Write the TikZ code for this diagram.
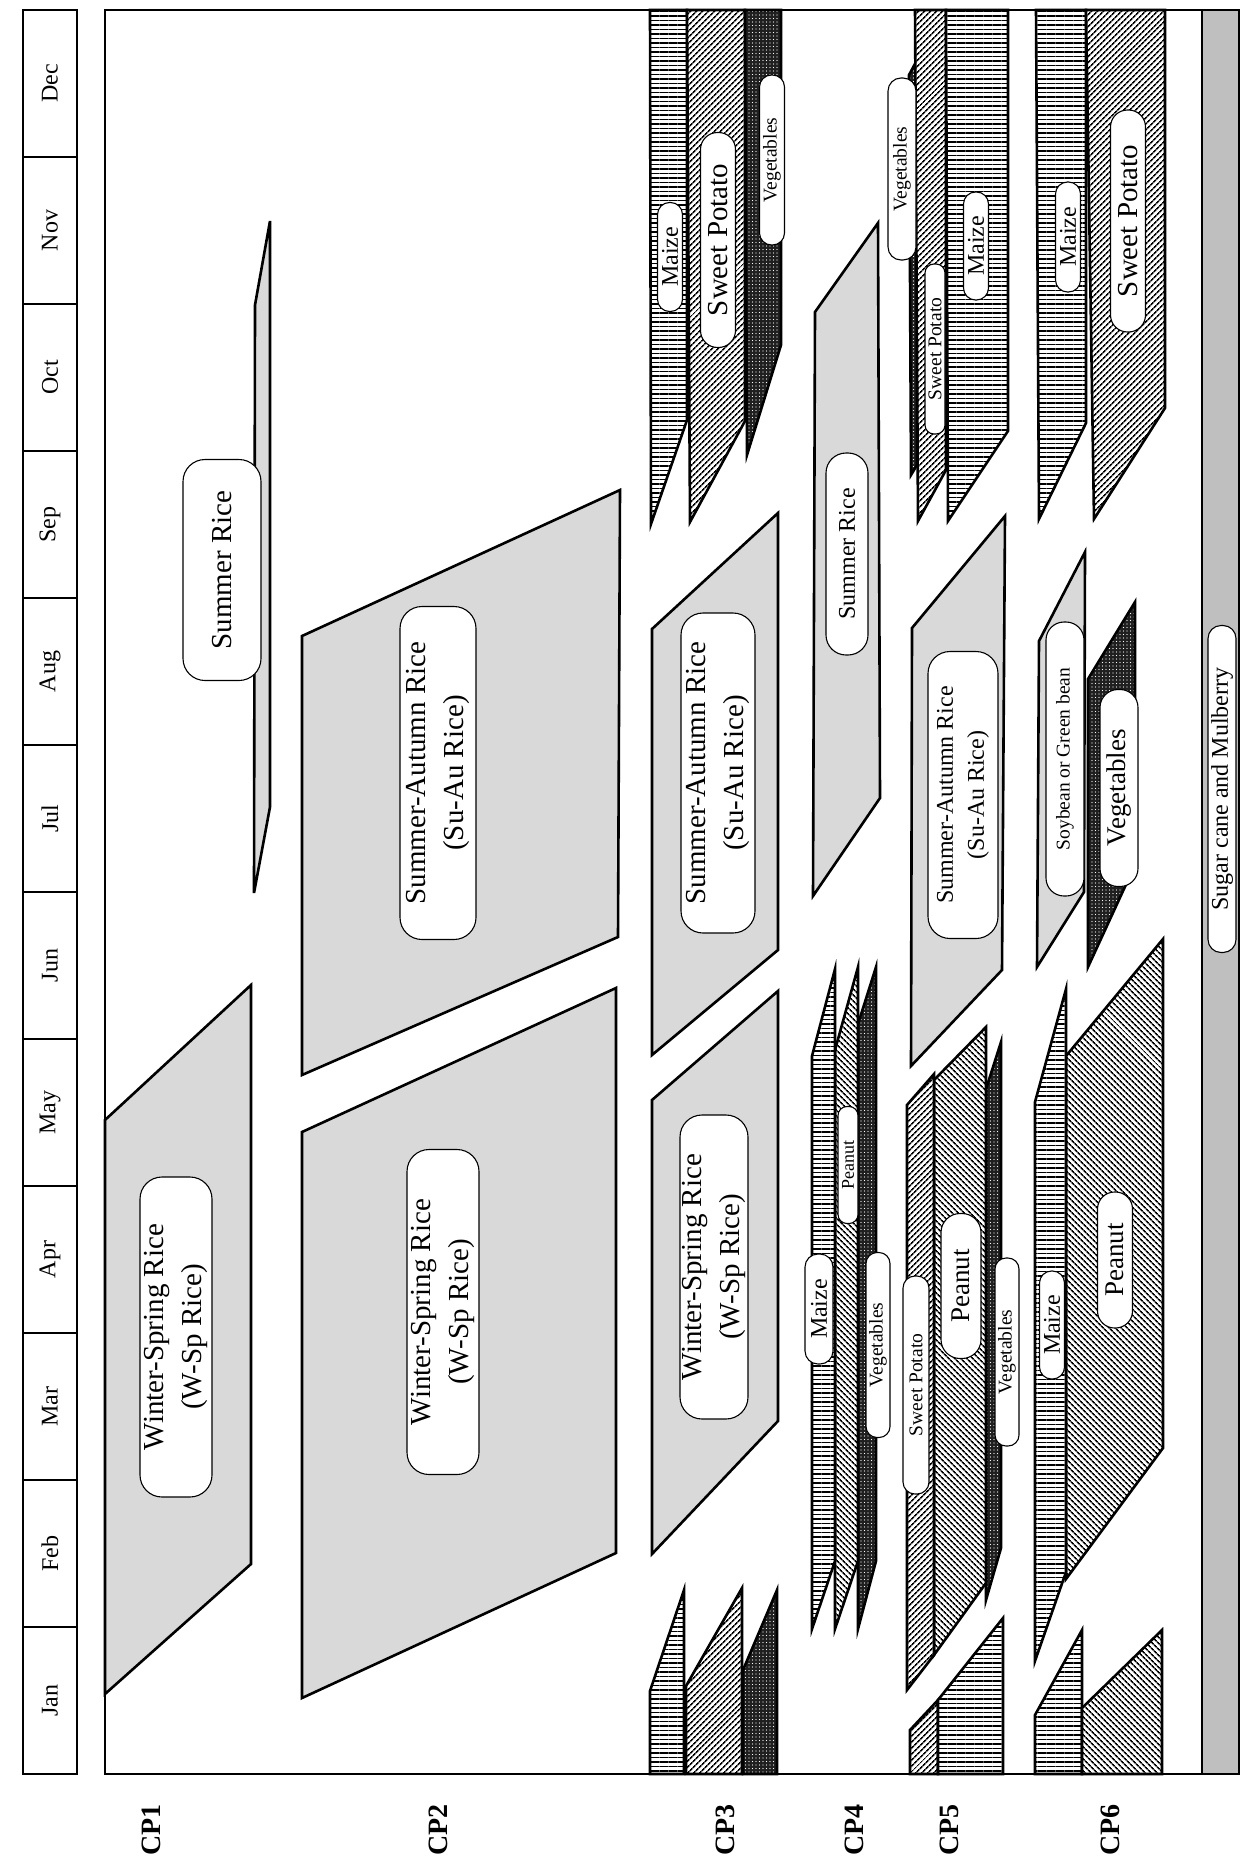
\documentclass[tikz,border=0pt]{standalone}
\usepackage{fontspec}
\setmainfont{Liberation Serif}
\usetikzlibrary{patterns.meta}

\newcommand\tagXL{\fontsize{29}{38}\selectfont}
\newcommand\tagL{\fontsize{27}{30}\selectfont}
\newcommand\tagM{\fontsize{24}{31}\selectfont}
\newcommand\tagS{\fontsize{19.5}{22}\selectfont}
\newcommand\tagXS{\fontsize{18}{20}\selectfont}
\newcommand\monthfont{\fontsize{24}{26}\selectfont}
\newcommand\cpfont{\fontsize{28}{30}\selectfont\bfseries}

\begin{document}
\begin{tikzpicture}[
  x=1pt, y=-1pt,
  crop/.style={draw, line width=2.6pt},
  rice/.style={crop, fill=black!15},
  maize/.style={crop, preaction={fill=white},
    pattern={Lines[angle=0,distance=4.5pt,line width=1.9pt]}},
  potato/.style={crop, preaction={fill=white},
    pattern={Lines[angle=45,distance=4pt,line width=1.7pt]}},
  peanut/.style={crop, preaction={fill=white},
    pattern={Lines[angle=-45,distance=4pt,line width=1.7pt]}},
  veg/.style={crop, preaction={fill=black!88},
    pattern={Dots[distance=3.5pt,radius=0.7pt]}, pattern color=white},
  cane/.style={draw, line width=1.6pt, fill=black!25},
  tag/.style={draw, fill=white, rotate=90, line width=1.1pt,
    inner sep=0pt, align=center},
  month/.style={draw, line width=2pt, rotate=90, minimum width=147pt,
    minimum height=54pt, inner sep=0pt, font=\monthfont},
  cplabel/.style={rotate=90, font=\cpfont}
]
\useasboundingbox (0,0) rectangle (1245,1870);

% ===== Month column =====
\foreach \m [count=\i from 0] in {Jan,Feb,Mar,Apr,May,Jun,Jul,Aug,Sep,Oct,Nov,Dec}
  \node[month] (mon\i) at (50,{1774-147*\i-73.5}) {\m};

% ===== Frame and perennial crops =====
\draw[line width=2.6pt] (105,10) rectangle (1239,1774);
\draw[cane] (1202,10) rectangle (1239,1774);

% ===== CP1 =====
\draw[rice] (105,1694) -- (251,1564) -- (251,985) -- (105,1120) -- cycle;
\draw[rice] (270,221) -- (255,305) -- (254,893) -- (270,807) -- cycle;

% ===== CP2 =====
\draw[rice] (302,1075) -- (618,937) -- (620,490) -- (302,636) -- cycle;
\draw[rice] (302,1698) -- (616,1553) -- (616,988) -- (302,1132) -- cycle;

% ===== CP3 =====
\draw[maize]  (650,10) -- (687,10) -- (687,420) -- (651,524) -- cycle;
\draw[potato] (687,10) -- (745,10) -- (745,421) -- (690,522) -- cycle;
\draw[veg]    (745,10) -- (781,10) -- (781,345) -- (747,455) -- cycle;
\draw[rice] (652,1055) -- (778,950) -- (778,513) -- (652,629) -- cycle;
\draw[rice] (652,1554) -- (778,1421) -- (778,991) -- (652,1100) -- cycle;
\draw[maize]  (650,1774) -- (650,1691) -- (684,1590) -- (684,1774) -- cycle;
\draw[potato] (686,1774) -- (686,1686) -- (742,1588) -- (742,1774) -- cycle;
\draw[veg]    (743,1774) -- (743,1670) -- (777,1590) -- (777,1774) -- cycle;

% ===== CP4 =====
\draw[rice] (878,223) -- (815,312) -- (813,896) -- (880,798) -- cycle;
\draw[veg]    (858,1629) -- (858,1024) -- (876,967) -- (876,1561) -- cycle;
\draw[peanut] (835,1629) -- (835,1050) -- (858,967) -- (858,1561) -- cycle;
\draw[maize]  (812,1629) -- (812,1056) -- (835,969) -- (835,1561) -- cycle;

% ===== CP5 =====
\draw[veg]    (909,75) -- (917,60) -- (917,465) -- (911,475) -- cycle;
\draw[potato] (915,10) -- (946,10) -- (946,470) -- (918,521) -- cycle;
\draw[maize]  (946,10) -- (1008,10) -- (1008,431) -- (948,521) -- cycle;
\draw[rice] (911,1066) -- (1002,970) -- (1005,516) -- (912,628) -- cycle;
\draw[veg]    (986,1600) -- (986,1089) -- (1001,1042) -- (1001,1548) -- cycle;
\draw[peanut] (934,1655) -- (934,1080) -- (986,1027) -- (986,1583) -- cycle;
\draw[potato] (907,1690) -- (907,1105) -- (934,1074) -- (934,1655) -- cycle;
\draw[potato] (910,1774) -- (910,1730) -- (938,1700) -- (938,1774) -- cycle;
\draw[maize]  (938,1774) -- (938,1700) -- (1003,1618) -- (1003,1774) -- cycle;

% ===== CP6 =====
\draw[maize]  (1036,10) -- (1086,10) -- (1086,423) -- (1039,519) -- cycle;
\draw[potato] (1086,10) -- (1165,10) -- (1165,408) -- (1094,519) -- cycle;
\draw[rice] (1037,967) -- (1039,641) -- (1085,552) -- (1084,892) -- cycle;
\draw[veg]    (1088,967) -- (1088,679) -- (1135,602) -- (1135,865) -- cycle;
\draw[peanut] (1066,1579) -- (1066,1056) -- (1163,939) -- (1163,1448) -- cycle;
\draw[maize]  (1035,1661) -- (1035,1102) -- (1066,989) -- (1066,1572) -- cycle;
\draw[maize]  (1035,1774) -- (1035,1715) -- (1082,1630) -- (1082,1774) -- cycle;
\draw[peanut] (1082,1774) -- (1082,1708) -- (1162,1630) -- (1162,1774) -- cycle;

% ===== Crop tags =====
\node[tag, minimum width=320pt, minimum height=72pt, rounded corners=22pt, font=\tagXL]
  (wsp1) at (176,1337) {Winter-Spring Rice\\(W-Sp Rice)};
\node[tag, minimum width=221pt, minimum height=78pt, rounded corners=22pt, font=\tagXL]
  (sum1) at (222,570) {Summer Rice};
\node[tag, minimum width=333pt, minimum height=76pt, rounded corners=22pt, font=\tagXL]
  (sua2) at (438,773) {Summer-Autumn Rice\\(Su-Au Rice)};
\node[tag, minimum width=325pt, minimum height=72pt, rounded corners=22pt, font=\tagXL]
  (wsp2) at (443,1312) {Winter-Spring Rice\\(W-Sp Rice)};
\node[tag, minimum width=320pt, minimum height=74pt, rounded corners=22pt, font=\tagXL]
  (sua3) at (718,773) {Summer-Autumn Rice\\(Su-Au Rice)};
\node[tag, minimum width=304pt, minimum height=68pt, rounded corners=22pt, font=\tagXL]
  (wsp3) at (714,1267) {Winter-Spring Rice\\(W-Sp Rice)};
\node[tag, minimum width=109pt, minimum height=25pt, rounded corners=12pt, font=\tagM]
  (maize3t) at (670,257) {Maize};
\node[tag, minimum width=215pt, minimum height=35pt, rounded corners=17pt, font=\tagXL]
  (pot3t) at (718,240) {Sweet Potato};
\node[tag, minimum width=170pt, minimum height=25pt, rounded corners=12pt, font=\tagS]
  (veg3t) at (772,160) {Vegetables};
\node[tag, minimum width=202pt, minimum height=42pt, rounded corners=20pt, font=\tagM]
  (sum4) at (847,554) {Summer Rice};
\node[tag, minimum width=110pt, minimum height=28pt, rounded corners=13pt, font=\tagM]
  (maize4) at (819,1309) {Maize};
\node[tag, minimum width=117pt, minimum height=20pt, rounded corners=9pt, font=\tagXS]
  (pea4) at (848,1165) {Peanut};
\node[tag, minimum width=185pt, minimum height=24pt, rounded corners=11pt, font=\tagS]
  (veg4) at (878,1345) {Vegetables};
\node[tag, minimum width=182pt, minimum height=28pt, rounded corners=13pt, font=\tagS]
  (veg5t) at (902,169) {Vegetables};
\node[tag, minimum width=170pt, minimum height=20pt, rounded corners=9pt, font=\tagS]
  (pot5t) at (935,349) {Sweet Potato};
\node[tag, minimum width=108pt, minimum height=25pt, rounded corners=12pt, font=\tagM]
  (maize5t) at (976,246) {Maize};
\node[tag, minimum width=287pt, minimum height=70pt, rounded corners=22pt, font=\tagM]
  (sua5) at (963,795) {Summer-Autumn Rice\\(Su-Au Rice)};
\node[tag, minimum width=218pt, minimum height=26pt, rounded corners=12pt, font=\tagS]
  (pot5m) at (916,1385) {Sweet Potato};
\node[tag, minimum width=145pt, minimum height=40pt, rounded corners=19pt, font=\tagL]
  (pea5m) at (961,1286) {Peanut};
\node[tag, minimum width=188pt, minimum height=24pt, rounded corners=11pt, font=\tagS]
  (veg5m) at (1007,1352) {Vegetables};
\node[tag, minimum width=110pt, minimum height=25pt, rounded corners=12pt, font=\tagM]
  (maize6t) at (1068,237) {Maize};
\node[tag, minimum width=222pt, minimum height=35pt, rounded corners=17pt, font=\tagXL]
  (pot6t) at (1128,221) {Sweet Potato};
\node[tag, minimum width=274pt, minimum height=38pt, rounded corners=18pt, font=\tagS]
  (bean6) at (1065,759) {Soybean or Green bean};
\node[tag, minimum width=197pt, minimum height=38pt, rounded corners=18pt, font=\tagL]
  (veg6) at (1119,788) {Vegetables};
\node[tag, minimum width=108pt, minimum height=25pt, rounded corners=12pt, font=\tagM]
  (maize6m) at (1052,1325) {Maize};
\node[tag, minimum width=136pt, minimum height=35pt, rounded corners=17pt, font=\tagL]
  (pea6m) at (1115,1260) {Peanut};
\node[tag, minimum width=327pt, minimum height=28pt, rounded corners=13pt, font=\tagM]
  (cane) at (1222,789) {Sugar cane and Mulberry};

% ===== Cropping pattern labels =====
\node[cplabel] (cp1) at (151,1830) {CP1};
\node[cplabel] (cp2) at (438,1830) {CP2};
\node[cplabel] (cp3) at (725,1830) {CP3};
\node[cplabel] (cp4) at (854,1830) {CP4};
\node[cplabel] (cp5) at (949,1830) {CP5};
\node[cplabel] (cp6) at (1110,1830) {CP6};

\end{tikzpicture}
\end{document}
